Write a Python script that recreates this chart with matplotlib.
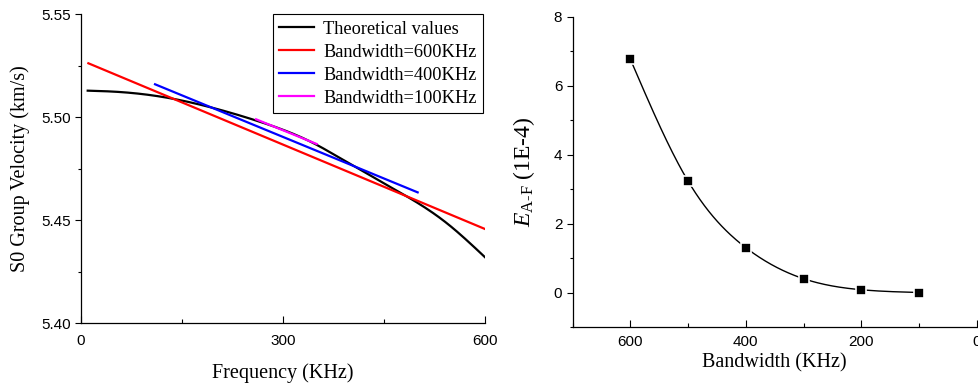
import numpy as np
import matplotlib
matplotlib.use("Agg")
import matplotlib.pyplot as plt
from matplotlib.ticker import MultipleLocator

plt.rcParams['font.family'] = ['Liberation Sans', 'DejaVu Sans']
plt.rcParams['mathtext.fontset'] = 'custom'
plt.rcParams['mathtext.rm'] = 'Liberation Serif'
plt.rcParams['mathtext.it'] = 'Liberation Serif:italic'

####-----------------Data-----------------
# left panel: S0 group velocity vs frequency
freq_theory = [10, 50, 124, 188, 260, 350, 385, 424, 454, 484, 543, 600]
vel_theory = [5.5129, 5.5124, 5.5097, 5.5052, 5.4984, 5.4866, 5.4801, 5.4728, 5.4671, 5.4615, 5.4486, 5.4320]
freq_600 = [11, 600]
vel_600 = [5.5262, 5.4457]
freq_400 = [110, 500]
vel_400 = [5.5160, 5.4635]
freq_100 = [260, 350]
vel_100 = [5.4990, 5.4870]

# right panel: error vs bandwidth
bandwidth = [600, 500, 400, 300, 200, 100]
error_af = [6.77, 3.23, 1.30, 0.40, 0.08, 0.0]


def natural_spline(x, y, n=200):
    # natural cubic spline through the points, just for drawing a smooth line
    x = np.asarray(x, float)
    y = np.asarray(y, float)
    order = np.argsort(x)
    x, y = x[order], y[order]
    k = len(x)
    h = np.diff(x)
    A = np.zeros((k, k))
    b = np.zeros(k)
    A[0, 0] = A[-1, -1] = 1
    for i in range(1, k - 1):
        A[i, i - 1] = h[i - 1]
        A[i, i] = 2 * (h[i - 1] + h[i])
        A[i, i + 1] = h[i]
        b[i] = 6 * ((y[i + 1] - y[i]) / h[i] - (y[i] - y[i - 1]) / h[i - 1])
    M = np.linalg.solve(A, b)
    xs = np.linspace(x[0], x[-1], n)
    idx = np.clip(np.searchsorted(x, xs) - 1, 0, k - 2)
    x0, x1 = x[idx], x[idx + 1]
    hh = x1 - x0
    ys = (M[idx] * (x1 - xs) ** 3 / (6 * hh) + M[idx + 1] * (xs - x0) ** 3 / (6 * hh)
          + (y[idx] / hh - M[idx] * hh / 6) * (x1 - xs)
          + (y[idx + 1] / hh - M[idx + 1] * hh / 6) * (xs - x0))
    return xs, ys


fig = plt.figure(figsize=(9.79, 3.86), dpi=100)
serif = {'family': ['Liberation Serif', 'DejaVu Serif']}

# ---------------- left panel ----------------
ax1 = fig.add_axes([0.0827, 0.163, 0.4127, 0.800])
ft, vt = natural_spline(freq_theory, vel_theory)
ax1.plot(ft, vt, color='black', lw=1.6, label='Theoretical values')
ax1.plot(freq_600, vel_600, color='#ff0000', lw=1.6, label='Bandwidth=600KHz')
ax1.plot(freq_400, vel_400, color='#0000ff', lw=1.6, label='Bandwidth=400KHz')
ax1.plot(freq_100, vel_100, color='#ff00ff', lw=1.6, label='Bandwidth=100KHz')
ax1.set_xlim(0, 600)
ax1.set_ylim(5.40, 5.55)
ax1.set_xticks([0, 300, 600])
ax1.xaxis.set_minor_locator(MultipleLocator(150))
ax1.set_yticks([5.40, 5.45, 5.50, 5.55])
ax1.yaxis.set_minor_locator(MultipleLocator(0.025))
ax1.set_xlabel('Frequency (KHz)', fontdict=serif, fontsize=14.5, labelpad=11)
ax1.set_ylabel('S0 Group Velocity (km/s)', fontdict=serif, fontsize=14.5, labelpad=8)
leg = ax1.legend(loc='upper right', bbox_to_anchor=(0.995, 1.0), borderaxespad=0,
                 prop={'family': 'Liberation Serif', 'size': 13.2},
                 fancybox=False, edgecolor='black', framealpha=1, handlelength=1.9,
                 labelspacing=0.33, borderpad=0.35, handletextpad=0.5)
leg.get_frame().set_linewidth(0.8)

# ---------------- right panel ----------------
ax2 = fig.add_axes([0.585, 0.153, 0.4127, 0.803])
xs, ys = natural_spline(bandwidth, error_af)
ax2.plot(xs, ys, color='black', lw=1.0)
ax2.plot(bandwidth, error_af, ls='none', marker='s', ms=7, mfc='black', mec='white', mew=1.2)
ax2.set_xlim(700, 0)
ax2.set_ylim(-1, 8)
ax2.set_xticks([600, 400, 200, 0])
ax2.xaxis.set_minor_locator(MultipleLocator(100))
ax2.set_yticks([0, 2, 4, 6, 8])
ax2.yaxis.set_minor_locator(MultipleLocator(1))
ax2.set_xlabel('Bandwidth (KHz)', fontdict=serif, fontsize=14.5, labelpad=3)
ax2.set_ylabel(r'$E_{\mathrm{A\text{-}F}}$ (1E-4)', fontdict=serif, fontsize=17, labelpad=12)

for ax in (ax1, ax2):
    ax.spines['top'].set_visible(False)
    ax.spines['right'].set_visible(False)
    for s in ('left', 'bottom'):
        ax.spines[s].set_linewidth(0.9)
    ax.tick_params(axis='x', which='major', direction='in', length=5, width=0.8, labelsize=11, pad=8)
    ax.tick_params(axis='x', which='minor', direction='in', length=3, width=0.8)
    ax.tick_params(axis='y', which='major', direction='out', length=4, width=0.8, labelsize=11)
    ax.tick_params(axis='y', which='minor', direction='out', length=2.5, width=0.8)
ax2.tick_params(axis='x', which='major', pad=6)

plt.savefig('out.png', dpi=100)
